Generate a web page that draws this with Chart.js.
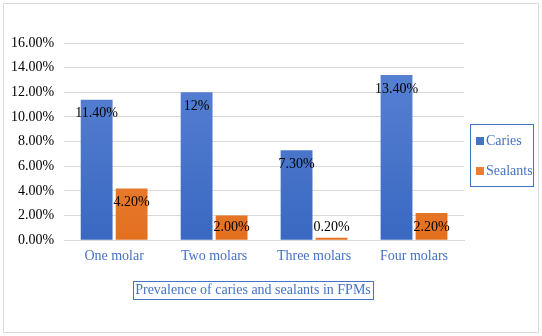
<!DOCTYPE html>
<html>
<head>
<meta charset="utf-8">
<script src="https://cdn.jsdelivr.net/npm/chart.js@4/dist/chart.umd.min.js"></script>
<style>
    html, body { margin: 0; padding: 0; background: #fff; }
    #wrap { position: relative; width: 542px; height: 336px; }
</style>
</head>
<body>
<div id="wrap"><canvas id="chart" width="542" height="336"></canvas></div>
<script>
const categories = ['One molar', 'Two molars', 'Three molars', 'Four molars'];
const caries = [11.4, 12, 7.3, 13.4];
const sealants = [4.2, 2.0, 0.2, 2.2];
const cariesLabels = ['11.40%', '12%', '7.30%', '13.40%'];
const sealantLabels = ['4.20%', '2.00%', '0.20%', '2.20%'];
const chartTitle = 'Prevalence of caries and sealants in FPMs';

const SERIF = '"Liberation Serif", "Times New Roman", serif';
const BLUE_TEXT = '#4472C4';

function gradient(ctx, area, top, bottom) {
    if (!area) {
        return bottom;
    }
    let g = ctx.createLinearGradient(0, area.top, 0, area.bottom);
    g.addColorStop(0, top);
    g.addColorStop(1, bottom);
    return g;
}

// value labels, legend box, title box and outer frame
const decorations = {
    id: 'decorations',
    afterDatasetsDraw(chart) {
        const ctx = chart.ctx;
        const yScale = chart.scales.y;
        const base = yScale.getPixelForValue(0);
        const texts = [cariesLabels, sealantLabels];

        ctx.save();
        ctx.font = '14px ' + SERIF;
        ctx.fillStyle = '#000';
        ctx.textAlign = 'center';
        ctx.textBaseline = 'middle';
        chart.data.datasets.forEach((ds, di) => {
            chart.getDatasetMeta(di).data.forEach((bar, i) => {
                let y = Math.min(bar.y + 14, base - 13);
                ctx.fillText(texts[di][i], bar.x, y);
            });
        });
        ctx.restore();
    },
    afterDraw(chart) {
        const ctx = chart.ctx;
        ctx.save();

        // outer frame
        ctx.strokeStyle = '#d9d9d9';
        ctx.lineWidth = 1;
        ctx.strokeRect(3.5, 3.5, 535, 329);

        // legend
        ctx.strokeStyle = BLUE_TEXT;
        ctx.strokeRect(470.5, 124.5, 63, 62);
        ctx.font = '14px ' + SERIF;
        ctx.textBaseline = 'middle';
        ctx.textAlign = 'left';
        const legendColors = ['#4472C4', '#ED7D31'];
        chart.data.datasets.forEach((ds, i) => {
            let y = 141 + i * 30;
            ctx.fillStyle = legendColors[i];
            ctx.fillRect(476, y - 4, 8, 8);
            ctx.fillStyle = BLUE_TEXT;
            ctx.fillText(ds.label, 486, y);
        });

        // title at the bottom
        ctx.font = '14px ' + SERIF;
        ctx.textAlign = 'center';
        ctx.fillStyle = BLUE_TEXT;
        ctx.fillText(chartTitle, 253, 290);
        ctx.strokeStyle = BLUE_TEXT;
        ctx.strokeRect(133.5, 281.5, 240, 18);

        ctx.restore();
    }
};

new Chart(document.getElementById('chart'), {
    type: 'bar',
    data: {
        labels: categories,
        datasets: [
            {
                label: 'Caries',
                data: caries,
                backgroundColor: (c) => gradient(c.chart.ctx, c.chart.chartArea, '#5B84D4', '#3A68C2')
            },
            {
                label: 'Sealants',
                data: sealants,
                backgroundColor: (c) => gradient(c.chart.ctx, c.chart.chartArea, '#F49049', '#E3701F')
            }
        ]
    },
    options: {
        responsive: false,
        animation: false,
        devicePixelRatio: 1,
        layout: { padding: { left: 1, right: 78, top: 43, bottom: 71 } },
        datasets: {
            bar: { categoryPercentage: 0.7, barPercentage: 0.91 }
        },
        plugins: {
            legend: { display: false },
            title: { display: false },
            tooltip: { enabled: false }
        },
        scales: {
            x: {
                grid: { display: false },
                border: { color: '#d9d9d9' },
                ticks: {
                    color: BLUE_TEXT,
                    font: { family: SERIF, size: 14 },
                    padding: 0
                }
            },
            y: {
                min: 0,
                max: 16,
                border: { display: false },
                grid: { color: '#d9d9d9', drawTicks: false },
                ticks: {
                    stepSize: 2,
                    color: '#000',
                    padding: 10,
                    font: { family: SERIF, size: 14 },
                    callback: (v) => v.toFixed(2) + '%'
                }
            }
        }
    },
    plugins: [decorations]
});
</script>
</body>
</html>
